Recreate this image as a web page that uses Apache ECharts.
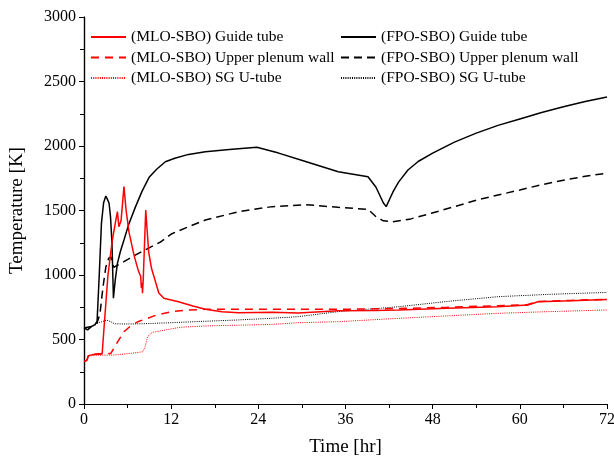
<!DOCTYPE html>
<html>
<head>
<meta charset="utf-8">
<script src="https://cdn.jsdelivr.net/npm/echarts@6/dist/echarts.min.js"></script>
<style>
  html, body { margin: 0; padding: 0; background: #fff; }
  #chart { width: 614px; height: 457px; }
</style>
</head>
<body>
<div id="chart"></div>
<script>
// Temperature histories [K] versus time [hr] for the two station blackout cases

// (MLO-SBO) Guide tube
const mloGuideT = [0, 0.4, 0.6, 1.5, 2.5, 2.9, 3.3, 3.9, 4.3, 4.6, 4.8, 5.1, 5.5, 5.8, 6.2, 6.9, 7.5, 7.8, 7.9, 8.0, 8.05, 8.15, 8.5, 8.9, 9.3, 10.3, 11, 13, 15, 16.7, 19, 21.3, 25.9, 29.5, 35, 40, 43.3, 50, 57, 61.1, 62.5, 67, 72];
const mloGuideK = [328, 340, 375, 385, 392, 700, 1000, 1271, 1400, 1491, 1375, 1420, 1685, 1500, 1330, 1150, 1030, 990, 900, 940, 858, 960, 1504, 1180, 1050, 860, 820, 793, 760, 734, 715, 708, 712, 705, 723, 725, 729, 742, 754, 767, 793, 800, 811];

// (MLO-SBO) Upper plenum wall
const mloPlenumT = [0, 0.4, 0.6, 1.5, 3.7, 4.5, 5.5, 6.5, 7.5, 8.75, 10, 12.1, 14, 16.7, 25, 35, 43.3, 50, 57, 61, 62.5, 67, 72];
const mloPlenumK = [328, 340, 375, 385, 392, 470, 560, 610, 640, 664, 690, 716, 728, 734, 735, 734, 740, 750, 762, 770, 795, 803, 812];

// (MLO-SBO) SG U-tube
const mloSgT = [0, 0.4, 0.6, 2, 4.2, 6, 7.5, 8.06, 8.4, 8.75, 9.4, 11.2, 13.3, 16.7, 25.9, 29.5, 35, 43.3, 50, 57, 64, 72];
const mloSgK = [328, 335, 372, 378, 380, 390, 400, 405, 440, 522, 555, 574, 595, 605, 617, 630, 638, 664, 683, 703, 716, 729];

// (FPO-SBO) Guide tube
const fpoGuideT = [0, 0.5, 1.0, 1.5, 1.8, 2.1, 2.4, 2.7, 3.0, 3.2, 3.45, 3.65, 3.85, 4.05, 4.3, 4.6, 5.0, 5.5, 6.2, 7.1, 8.0, 9.0, 10, 11.2, 12.5, 14.4, 16.7, 20.4, 23.8, 26.8, 30.5, 35.0, 39.1, 40.2, 41.2, 41.6, 42.5, 43.3, 44.6, 46, 48, 51, 54, 57, 60, 63, 66, 69, 72];
const fpoGuideK = [590, 575, 600, 615, 640, 1000, 1400, 1560, 1612, 1590, 1556, 1450, 1250, 820, 960, 1090, 1180, 1271, 1400, 1530, 1650, 1760, 1820, 1878, 1905, 1935, 1955, 1975, 1990, 1945, 1880, 1800, 1762, 1680, 1560, 1530, 1640, 1720, 1814, 1880, 1945, 2030, 2100, 2160, 2210, 2260, 2305, 2345, 2380];

// (FPO-SBO) Upper plenum wall
const fpoPlenumT = [0, 1, 1.8, 2.2, 2.6, 3.0, 3.4, 3.7, 3.9, 4.1, 5.5, 7.5, 10.6, 12.1, 14.4, 16.7, 21.3, 25.9, 30.5, 35, 39.1, 40.2, 41.2, 42.5, 45, 47.8, 51, 54, 57, 60, 63, 66, 69, 72];
const fpoPlenumK = [590, 600, 630, 700, 900, 1060, 1130, 1140, 1090, 1060, 1103, 1168, 1258, 1320, 1375, 1426, 1491, 1530, 1545, 1525, 1509, 1452, 1420, 1413, 1435, 1478, 1530, 1580, 1620, 1659, 1700, 1735, 1765, 1790];

// (FPO-SBO) SG U-tube
const fpoSgT = [0, 0.5, 1.0, 1.5, 2.0, 2.6, 3.1, 3.6, 4.2, 6, 8, 12, 16, 21, 25, 29.5, 35, 43.3, 50, 57, 64, 72];
const fpoSgK = [590, 575, 600, 610, 630, 640, 650, 640, 622, 620, 622, 630, 640, 651, 662, 677, 716, 754, 795, 832, 850, 865];

// Axis ranges and ticks
const timeMin = 0, timeMax = 72, timeStep = 12;
const tempMin = 0, tempMax = 3000, tempStep = 500;

const seriesNames = [
  '(MLO-SBO) Guide tube', '(MLO-SBO) Upper plenum wall', '(MLO-SBO) SG U-tube',
  '(FPO-SBO) Guide tube', '(FPO-SBO) Upper plenum wall', '(FPO-SBO) SG U-tube'
];

const pairs = (ts, ks) => ts.map((t, i) => [t, ks[i]]);
const FONT = '"Liberation Serif", "Times New Roman", serif';

function lineSeries(name, data, color, type, width) {
  return {
    name, type: 'line', data,
    xAxisIndex: 0, yAxisIndex: 0,
    symbol: 'none', showSymbol: false,
    lineStyle: { color, type, width },
    itemStyle: { color },
    animation: false
  };
}

const chart = echarts.init(document.getElementById('chart'), null, { renderer: 'canvas' });

// Legend keys show only the line sample, no marker
const legendCommon = {
  orient: 'vertical',
  itemWidth: 35,
  itemHeight: 14,
  itemGap: 4.5,
  padding: 0,
  itemStyle: { color: 'rgba(0,0,0,0)', borderWidth: 0, opacity: 0 },
  textStyle: { fontFamily: FONT, fontSize: 15.5, color: '#000' },
  selectedMode: false
};

chart.setOption({
  animation: false,
  backgroundColor: '#fff',
  grid: { left: 84, right: 7, top: 17, bottom: 53, outerBoundsMode: 'none', containLabel: false },
  legend: [
    Object.assign({ left: 90, top: 29, data: seriesNames.slice(0, 3) }, legendCommon),
    Object.assign({ left: 340, top: 29, data: seriesNames.slice(3) }, legendCommon)
  ],
  xAxis: [
    {
      type: 'value', position: 'bottom',
      min: timeMin, max: timeMax, interval: timeStep,
      name: 'Time [hr]', nameLocation: 'middle', nameGap: 34,
      nameTextStyle: { fontFamily: FONT, fontSize: 19, color: '#000' },
      axisLine: { show: true, lineStyle: { color: '#000', width: 1.2 } },
      axisTick: { show: true, inside: false, length: 5, lineStyle: { color: '#000' } },
      minorTick: { show: true, splitNumber: 2, length: 3, lineStyle: { color: '#000' } },
      axisLabel: { fontFamily: FONT, fontSize: 16, color: '#000', margin: 8, formatter: v => String(v) },
      splitLine: { show: false }
    },
    {
      type: 'value', position: 'top',
      min: timeMin, max: timeMax, interval: timeStep / 2,
      axisLine: { show: true, lineStyle: { color: '#000', width: 1.2 } },
      axisTick: { show: true, inside: true, length: 4, lineStyle: { color: '#000' } },
      axisLabel: { show: false },
      splitLine: { show: false }
    }
  ],
  yAxis: [
    {
      type: 'value', position: 'left',
      min: tempMin, max: tempMax, interval: tempStep,
      name: 'Temperature [K]', nameLocation: 'middle', nameGap: 57,
      nameTextStyle: { fontFamily: FONT, fontSize: 19, color: '#000' },
      axisLine: { show: true, lineStyle: { color: '#000', width: 1.2 } },
      axisTick: { show: true, inside: false, length: 5, lineStyle: { color: '#000' } },
      minorTick: { show: true, splitNumber: 2, length: 3, lineStyle: { color: '#000' } },
      axisLabel: { fontFamily: FONT, fontSize: 16, color: '#000', margin: 8, formatter: v => String(v) },
      splitLine: { show: false }
    },
    {
      type: 'value', position: 'right',
      min: tempMin, max: tempMax, interval: tempStep / 2,
      axisLine: { show: true, lineStyle: { color: '#000', width: 1.2 } },
      axisTick: { show: true, inside: true, length: 4, lineStyle: { color: '#000' } },
      axisLabel: { show: false },
      splitLine: { show: false }
    }
  ],
  series: [
    lineSeries(seriesNames[5], pairs(fpoSgT, fpoSgK), '#000000', [1, 1.2], 1),
    lineSeries(seriesNames[4], pairs(fpoPlenumT, fpoPlenumK), '#000000', [8, 5], 1.5),
    lineSeries(seriesNames[3], pairs(fpoGuideT, fpoGuideK), '#000000', 'solid', 1.5),
    lineSeries(seriesNames[2], pairs(mloSgT, mloSgK), '#ff0000', [1, 1.2], 1),
    lineSeries(seriesNames[1], pairs(mloPlenumT, mloPlenumK), '#ff0000', [8, 6], 1.5),
    lineSeries(seriesNames[0], pairs(mloGuideT, mloGuideK), '#ff0000', 'solid', 1.5)
  ]
});
</script>
</body>
</html>
